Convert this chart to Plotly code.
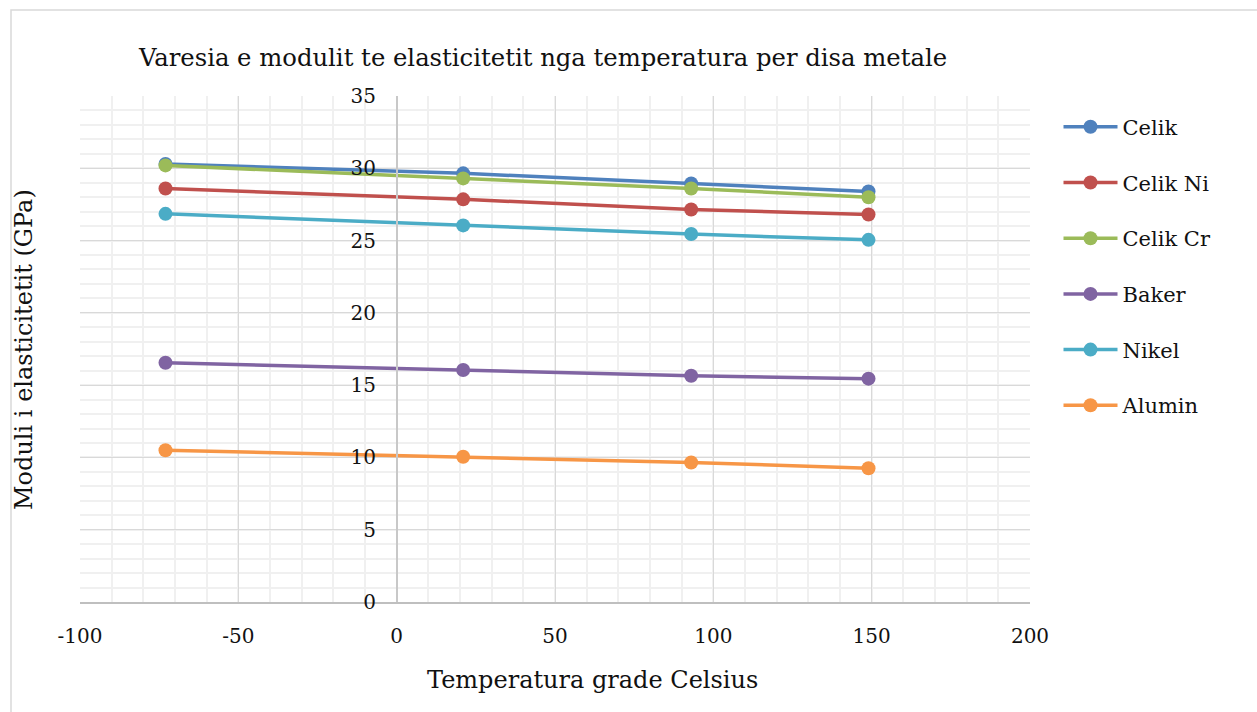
import plotly.graph_objects as go

temperatures = [-73, 21, 93, 149]
series_names = ["Celik", "Celik Ni", "Celik Cr", "Baker", "Nikel", "Alumin"]
celik = [30.3, 29.65, 28.95, 28.4]
celik_ni = [28.6, 27.85, 27.15, 26.8]
celik_cr = [30.2, 29.3, 28.6, 28.0]
baker = [16.55, 16.05, 15.65, 15.45]
nikel = [26.85, 26.05, 25.45, 25.05]
alumin = [10.5, 10.05, 9.65, 9.25]
series_values = [celik, celik_ni, celik_cr, baker, nikel, alumin]
colors = ["#4F81BD", "#C0504D", "#9BBB59", "#8064A2", "#4BACC6", "#F79646"]

x_tickvals = [-100, -50, 0, 50, 100, 150, 200]
x_ticktext = ["-100", "-50", "0", "50", "100", "150", "200"]
y_tickvals = [0, 5, 10, 15, 20, 25, 30, 35]

title_text = "Varesia e modulit te elasticitetit nga temperatura per disa metale"
x_title = "Temperatura grade Celsius"
y_title = "Moduli i elasticitetit (GPa)"

FONT = "DejaVu Serif"
TXT = "#111111"

fig = go.Figure()
for name, vals, col in zip(series_names, series_values, colors):
    fig.add_trace(go.Scatter(
        x=temperatures, y=vals, name=name, mode="lines+markers",
        line=dict(color=col, width=3.5),
        marker=dict(color=col, size=14),
        legendgroup=name,
    ))

W, H = 1257, 712
L, R, T, B = 80, 227, 96, 110

fig.update_layout(
    width=W, height=H,
    margin=dict(l=L, r=R, t=T, b=B),
    paper_bgcolor="white", plot_bgcolor="white",
    font=dict(family=FONT, size=20, color=TXT),
    title=dict(text=title_text, x=543 / W, xanchor="center",
               y=1 - 57 / H, yanchor="middle", yref="container",
               font=dict(family=FONT, size=24.3, color=TXT)),
    showlegend=True,
    legend=dict(x=1.03, xanchor="left", y=0.979, yanchor="top",
                traceorder="grouped", tracegroupgap=25.4,
                font=dict(family=FONT, size=21, color=TXT),
                itemwidth=54, bgcolor="rgba(0,0,0,0)"),
    xaxis=dict(range=[-100, 200], tickvals=x_tickvals, ticktext=x_ticktext,
               showgrid=True, gridcolor="#D9D9D9", gridwidth=1,
               minor=dict(dtick=10, showgrid=True, gridcolor="#F0F0F0", gridwidth=1.5),
               showline=True, linecolor="#BFBFBF", linewidth=1.5,
               zeroline=False, ticks="", ticklabelstandoff=15,
               tickfont=dict(family=FONT, size=20, color=TXT)),
    yaxis=dict(range=[0, 35], tickvals=y_tickvals,
               anchor="free", position=1 / 3,
               showgrid=True, gridcolor="#D9D9D9", gridwidth=1,
               minor=dict(dtick=1, showgrid=True, gridcolor="#F0F0F0", gridwidth=1.5),
               showline=True, linecolor="#C8C8C8", linewidth=1.5,
               zeroline=False, ticks="", ticklabelstandoff=16,
               tickfont=dict(family=FONT, size=20, color=TXT)),
)

# outer chart border
fig.add_shape(type="rect", xref="paper", yref="paper",
              x0=(11 - L) / 950, x1=(W + 20 - L) / 950,
              y0=(602 - (H + 20)) / 506, y1=(602 - 10) / 506,
              line=dict(color="#D9D9D9", width=1.5), fillcolor="rgba(0,0,0,0)",
              layer="below")

fig.add_annotation(text=x_title, xref="paper", yref="paper",
                   x=(592 - L) / 950, y=(602 - 680) / 506,
                   xanchor="center", yanchor="middle", showarrow=False,
                   font=dict(family=FONT, size=24, color=TXT))
fig.add_annotation(text=y_title, xref="paper", yref="paper",
                   x=(24 - L) / 950, y=(602 - 350) / 506, textangle=-90,
                   xanchor="center", yanchor="middle", showarrow=False,
                   font=dict(family=FONT, size=24, color=TXT))

fig.write_html("out.html")
